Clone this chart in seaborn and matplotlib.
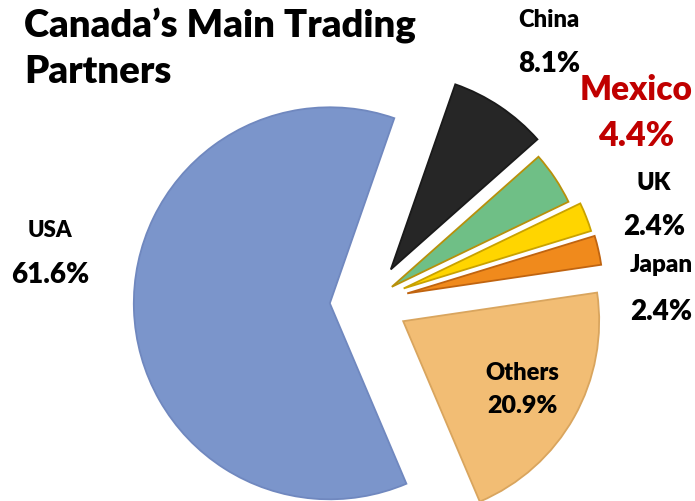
import matplotlib
matplotlib.use("Agg")
import matplotlib.pyplot as plt
import seaborn as sns
from matplotlib import font_manager as fm

# ---- data ----
partners = ["USA", "China", "Mexico", "UK", "Japan", "Others"]
shares = [61.6, 8.1, 4.4, 2.4, 2.4, 20.9]
pct_labels = ["61.6%", "8.1%", "4.4%", "2.4%", "2.4%", "20.9%"]
title_lines = ["Canada\u2019s Main Trading", "Partners"]

# ---- style ----
sns.set_theme(style="white")
plt.rcParams["font.family"] = ["Lato", "DejaVu Sans"]
lato_weights = sorted({f.weight for f in fm.fontManager.ttflist if f.name == "Lato"},
                      key=lambda w: str(w))
print("Lato weights:", lato_weights)
WEIGHT = 800

face_colors = ["#7b95cb", "#262626", "#6fbf86", "#ffd500", "#f08a1c", "#f2bd74"]
edge_colors = ["#7088bf", "#1a1a1a", "#b8900a", "#c9a200", "#c06410", "#d9a55e"]
explode_frac = [0.2, 0.2, 0.14, 0.19, 0.2, 0.2]

W, H = 695, 502
fig = plt.figure(figsize=(W / 100, H / 100), dpi=100)
ax = fig.add_axes([0, 0, 1, 1])

cx, cy, r = 369, H - 303, 196
wedges, _ = ax.pie(shares, colors=face_colors,
                   explode=[e * r for e in explode_frac],
                   startangle=293, counterclock=False,
                   center=(cx, cy), radius=r, frame=True,
                   wedgeprops=dict(linewidth=1.3))
for w, ec in zip(wedges, edge_colors):
    w.set_edgecolor(ec)
ax.set_xlim(0, W)
ax.set_ylim(0, H)
ax.set_aspect("equal")
ax.axis("off")

# ---- labels: x, baseline of name, baseline of pct, name size, pct size, colour ----
label_pos = {
    "USA": (50, 237, 283, 16, 20, "black"),
    "China": (549, 27, 72, 17, 20, "black"),
    "Mexico": (636, 100, 146, 24, 24.5, "#c00000"),
    "UK": (654, 190, 235, 17, 20, "black"),
    "Japan": (661, 272, 320, 17.5, 20, "black"),
    "Others": (522, 380, 413, 17, 18, "black"),
}
for name, pct in zip(partners, pct_labels):
    x, y1, y2, fs1, fs2, col = label_pos[name]
    ax.text(x, H - y1, name, ha="center", va="baseline", fontsize=fs1,
            fontweight=WEIGHT, color=col)
    ax.text(x, H - y2, pct, ha="center", va="baseline", fontsize=fs2,
            fontweight=WEIGHT, color=col)

# ---- title ----
for line, yb in zip(title_lines, [38, 83]):
    ax.text(24, H - yb, line, ha="left", va="baseline", fontsize=27.5,
            fontweight=WEIGHT, color="black")

fig.savefig("out.png", dpi=100, facecolor="white")
